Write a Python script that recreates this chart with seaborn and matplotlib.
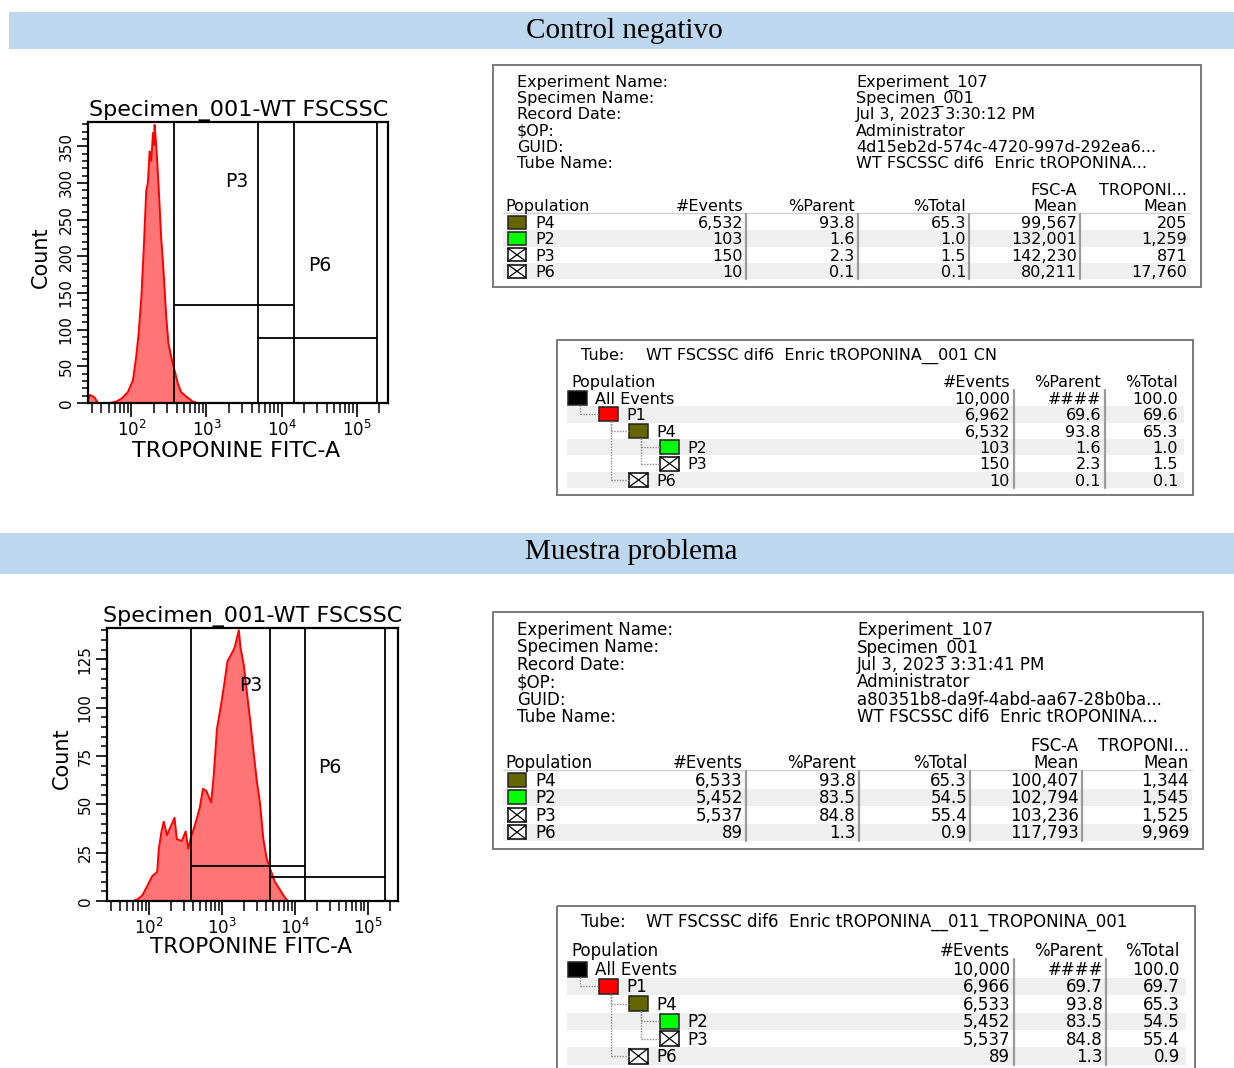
import matplotlib
matplotlib.use("Agg")
import matplotlib.pyplot as plt
import matplotlib.transforms as mtransforms
import numpy as np
import pandas as pd
import seaborn as sns
from matplotlib.patches import Rectangle
from matplotlib.ticker import LogLocator, MultipleLocator, NullFormatter

# ------------------------------------------------------------------ data
section_titles = ["Control negativo", "Muestra problema"]
hist_title = "Specimen_001-WT FSCSSC"
x_label = "TROPONINE FITC-A"
y_label = "Count"

# histogram outlines (FITC value, count)
ctrl_fitc = [26, 28, 32, 36, 52, 63, 74, 90, 105, 116, 125, 136, 146, 158, 166, 175,
             184, 194, 200, 204, 211, 219, 232, 249, 260, 271, 291, 312, 339, 375,
             415, 459, 535, 656, 764]
ctrl_count = [0, 11, 8, 0, 0, 2, 6, 15, 31, 63, 95, 145, 209, 290, 300, 343,
              330, 368, 352, 379, 360, 336, 290, 227, 200, 172, 118, 81, 63, 45,
              27, 15, 9, 2, 0]
ctrl_ymax = 383

prob_fitc = [60, 70, 81, 95, 111, 129, 136, 148, 159, 176, 195, 223, 240, 281,
             317, 345, 382, 424, 494, 548, 608, 710, 771, 853, 966, 1072, 1189,
             1318, 1489, 1702, 1795, 1991, 2208, 2443, 2710, 3006, 3334, 3690,
             4102, 4539, 5297, 6194, 7228, 8000]
prob_count = [0, 1, 3, 8, 13, 15, 27, 36, 41, 34, 38, 43, 32, 31,
              36, 27, 34, 39, 48, 58, 57, 51, 65, 89, 101, 112, 124,
              127, 131, 140, 131, 122, 107, 93, 77, 62, 50, 32,
              22, 17, 10, 6, 2, 0]
prob_ymax = 141

fitc_range = [26.2, 262143]

gate_names = ["P3", "P6"]
ctrl_gate_lo = [372, 4790]
ctrl_gate_hi = [14450, 186000]
ctrl_gate_y = [134, 89]
prob_gate_lo = [374, 4540]
prob_gate_hi = [13800, 171000]
prob_gate_y = [18.3, 12.3]

meta_labels = ["Experiment Name:", "Specimen Name:", "Record Date:", "$OP:", "GUID:", "Tube Name:"]
ctrl_meta = ["Experiment_107", "Specimen_001", "Jul 3, 2023 3:30:12 PM", "Administrator",
             "4d15eb2d-574c-4720-997d-292ea6...", "WT FSCSSC dif6  Enric tROPONINA..."]
prob_meta = ["Experiment_107", "Specimen_001", "Jul 3, 2023 3:31:41 PM", "Administrator",
             "a80351b8-da9f-4abd-aa67-28b0ba...", "WT FSCSSC dif6  Enric tROPONINA..."]

stat_headers = ["Population", "#Events", "%Parent", "%Total", "Mean", "Mean"]
stat_headers2 = ["FSC-A", "TROPONI..."]
stat_pops = ["P4", "P2", "P3", "P6"]
ctrl_events = [6532, 103, 150, 10]
ctrl_parent = [93.8, 1.6, 2.3, 0.1]
ctrl_total = [65.3, 1.0, 1.5, 0.1]
ctrl_fsc_mean = [99567, 132001, 142230, 80211]
ctrl_trop_mean = [205, 1259, 871, 17760]
prob_events = [6533, 5452, 5537, 89]
prob_parent = [93.8, 83.5, 84.8, 1.3]
prob_total = [65.3, 54.5, 55.4, 0.9]
prob_fsc_mean = [100407, 102794, 103236, 117793]
prob_trop_mean = [1344, 1545, 1525, 9969]

tree_headers = ["Population", "#Events", "%Parent", "%Total"]
tree_pops = ["All Events", "P1", "P4", "P2", "P3", "P6"]
tree_level = [0, 1, 2, 3, 3, 2]
tree_parent_idx = [None, 0, 1, 2, 2, 1]
ctrl_tube = "WT FSCSSC dif6  Enric tROPONINA__001 CN"
ctrl_tree_events = [10000, 6962, 6532, 103, 150, 10]
ctrl_tree_parent = ["####", 69.6, 93.8, 1.6, 2.3, 0.1]
ctrl_tree_total = [100.0, 69.6, 65.3, 1.0, 1.5, 0.1]
prob_tube = "WT FSCSSC dif6  Enric tROPONINA__011_TROPONINA_001"
prob_tree_events = [10000, 6966, 6533, 5452, 5537, 89]
prob_tree_parent = ["####", 69.7, 93.8, 83.5, 84.8, 1.3]
prob_tree_total = [100.0, 69.7, 65.3, 54.5, 55.4, 0.9]

pop_colors = {"All Events": "#000000", "P1": "#FF0000", "P4": "#666600",
              "P2": "#00FF00", "P3": None, "P6": None}

# ------------------------------------------------------------------ style
sns.set_theme(style="ticks")
plt.rcParams["font.family"] = ["DejaVu Sans"]
plt.rcParams["mathtext.fontset"] = "dejavusans"
for key in ["text.color", "axes.labelcolor", "xtick.color", "ytick.color", "axes.edgecolor"]:
    plt.rcParams[key] = "black"

W, H = 1234, 1068
fig = plt.figure(figsize=(W / 100, H / 100), dpi=100)
fig.patch.set_facecolor("white")
bg = fig.add_axes([0, 0, 1, 1])
bg.set_xlim(0, W)
bg.set_ylim(H, 0)
bg.axis("off")

def fmt(v, kind):
    if isinstance(v, str):
        return v
    if kind == "int":
        return f"{v:,}"
    return f"{v:.1f}"

def txt(x, y, s, fs, ha="left", **kw):
    # y is the visual centre of the capitals -> baseline placement
    bg.text(x, y + 0.36 * fs * 100 / 72, s, fontsize=fs, ha=ha, va="baseline",
            color="black", parse_math=False, **kw)

def pop_square(x, yc, w, h, color):
    if color is None:
        bg.add_patch(Rectangle((x, yc - h / 2), w, h, fc="white", ec="black", lw=1.1))
        bg.plot([x, x + w], [yc - h / 2, yc + h / 2], color="black", lw=0.9)
        bg.plot([x, x + w], [yc + h / 2, yc - h / 2], color="black", lw=0.9)
    else:
        bg.add_patch(Rectangle((x, yc - h / 2), w, h, fc=color, ec="#222222", lw=1.1))

# ------------------------------------------------------------------ section bars
bg.add_patch(Rectangle((9, 12), W - 9, 37, fc="#BDD7EE", ec="none"))
bg.text(624, 31, section_titles[0], fontsize=21, family="Liberation Serif",
        ha="center", va="center", color="black")
bg.add_patch(Rectangle((0, 533), W, 41, fc="#BDD7EE", ec="none"))
bg.text(631, 552, section_titles[1], fontsize=21, family="Liberation Serif",
        ha="center", va="center", color="black")

# ------------------------------------------------------------------ statistics tables
def info_table(L, meta_vals, events, parent, total, fsc, trop):
    x0, y0, x1, y1 = L["box"]
    fs = L["fs"]
    bg.add_patch(Rectangle((x0, y0), x1 - x0, y1 - y0, fill=False, ec="#707070", lw=1.3))
    for i, (lab, val) in enumerate(zip(meta_labels, meta_vals)):
        y = L["meta_y0"] + i * L["meta_dy"]
        txt(L["lab_x"], y, lab, fs)
        txt(L["val_x"], y, val, fs)
    cols = L["cols"]
    txt(cols[3], L["hdr2_y"], stat_headers2[0], fs, ha="right")
    txt(cols[4], L["hdr2_y"], stat_headers2[1], fs, ha="right")
    txt(L["pop_x"], L["hdr_y"], stat_headers[0], fs)
    for c, h in zip(cols, stat_headers[1:]):
        txt(c, L["hdr_y"], h, fs, ha="right")
    dy = L["row_dy"]
    bg.plot([L["shade"][0], L["shade"][1]], [L["line_y"], L["line_y"]], color="#D0D0D0", lw=1)
    for i, pop in enumerate(stat_pops):
        yc = L["row_y0"] + i * dy
        if i % 2 == 1:
            bg.add_patch(Rectangle((L["shade"][0], yc - dy / 2), L["shade"][1] - L["shade"][0], dy,
                                   fc="#EFEFEF", ec="none", zorder=0.5))
        pop_square(L["sq_x"], yc, L["sq"][0], L["sq"][1], pop_colors[pop])
        txt(L["lbl_x"], yc, pop, fs)
        vals = [fmt(events[i], "int"), fmt(parent[i], "f"), fmt(total[i], "f"),
                fmt(fsc[i], "int"), fmt(trop[i], "int")]
        for c, v in zip(cols, vals):
            txt(c, yc, v, fs, ha="right")
    ytop = L["line_y"] + 1
    ybot = L["row_y0"] + (len(stat_pops) - 0.5) * dy
    for s in L["seps"]:
        bg.plot([s, s], [ytop, ybot], color="#9A9A9A", lw=1.6)

info_top = dict(box=(493, 65, 1201, 287), lab_x=517, val_x=856, meta_y0=81, meta_dy=16.3,
                hdr2_y=189, hdr_y=205, line_y=213, row_y0=222, row_dy=16.4, pop_x=505,
                sq_x=508, lbl_x=535, sq=(18, 13), cols=[743, 855, 966, 1077, 1187],
                seps=[746, 858, 969, 1080], shade=(503, 1190), fs=11.5)
info_bot = dict(box=(493, 612, 1203, 849), lab_x=517, val_x=857, meta_y0=629, meta_dy=17.4,
                hdr2_y=745, hdr_y=762, line_y=770, row_y0=780, row_dy=17.4, pop_x=505,
                sq_x=508, lbl_x=535, sq=(18, 14), cols=[743, 856, 967, 1079, 1189],
                seps=[746, 859, 970, 1082], shade=(503, 1192), fs=12)

info_table(info_top, ctrl_meta, ctrl_events, ctrl_parent, ctrl_total, ctrl_fsc_mean, ctrl_trop_mean)
info_table(info_bot, prob_meta, prob_events, prob_parent, prob_total, prob_fsc_mean, prob_trop_mean)

# ------------------------------------------------------------------ hierarchy tables
def tree_table(L, tube, events, parent, total):
    x0, y0, x1, y1 = L["box"]
    fs = L["fs"]
    bg.add_patch(Rectangle((x0, y0), x1 - x0, y1 - y0, fill=False, ec="#707070", lw=1.3))
    txt(581, L["tube_y"], "Tube:", fs)
    txt(646, L["tube_y"], tube, fs)
    cols = L["cols"]
    txt(L["pop_x"], L["hdr_y"], tree_headers[0], fs)
    for c, h in zip(cols, tree_headers[1:]):
        txt(c, L["hdr_y"], h, fs, ha="right")
    dy = L["row_dy"]
    sw, sh = L["sq"]
    lx = L["level_x"]
    ys = [L["row_y0"] + i * dy for i in range(len(tree_pops))]
    for i, pop in enumerate(tree_pops):
        yc = ys[i]
        if i % 2 == 1:
            bg.add_patch(Rectangle((L["shade"][0], yc - dy / 2), L["shade"][1] - L["shade"][0], dy,
                                   fc="#EFEFEF", ec="none", zorder=0.5))
    for i, p in enumerate(tree_parent_idx):
        if p is None:
            continue
        px = lx[tree_level[p]] + sw / 2 + 2
        bg.plot([px, px], [ys[p] + sh / 2, ys[i]], color="#8C8C8C", lw=1, ls=(0, (1, 1)))
        bg.plot([px, lx[tree_level[i]]], [ys[i], ys[i]], color="#8C8C8C", lw=1, ls=(0, (1, 1)))
    for i, pop in enumerate(tree_pops):
        yc = ys[i]
        bx = lx[tree_level[i]]
        pop_square(bx, yc, sw, sh, pop_colors[pop])
        txt(bx + sw + 8, yc, pop, fs)
        vals = [fmt(events[i], "int"), fmt(parent[i], "f"), fmt(total[i], "f")]
        for c, v in zip(cols, vals):
            txt(c, yc, v, fs, ha="right")
    ytop = L["hdr_y"] + 9
    ybot = ys[-1] + dy / 2
    for s in L["seps"]:
        bg.plot([s, s], [ytop, ybot], color="#9A9A9A", lw=1.6)

tree_top = dict(box=(557, 340, 1193, 495), tube_y=354, hdr_y=381, row_y0=398, row_dy=16.4,
                pop_x=571, level_x=[568, 599, 629, 660], sq=(19, 14), cols=[1010, 1101, 1178],
                seps=[1014, 1105], shade=(567, 1184), fs=11.5)
tree_bot = dict(box=(557, 906, 1195, 1080), tube_y=921, hdr_y=950, row_y0=969, row_dy=17.4,
                pop_x=571, level_x=[568, 599, 629, 660], sq=(19, 15), cols=[1010, 1103, 1180],
                seps=[1014, 1106], shade=(567, 1186), fs=12)

tree_table(tree_top, ctrl_tube, ctrl_tree_events, ctrl_tree_parent, ctrl_tree_total)
tree_table(tree_bot, prob_tube, prob_tree_events, prob_tree_parent, prob_tree_total)

# ------------------------------------------------------------------ histograms
def hist_panel(rect_px, fitc, count, ymax, ymaj, ymin, glo, ghi, gy):
    l, t, r, b = rect_px
    ax = fig.add_axes([l / W, 1 - b / H, (r - l) / W, (b - t) / H])
    df = pd.DataFrame({"fitc": fitc, "count": count})
    ax.set_xscale("log")
    ax.fill_between(df["fitc"], 0, df["count"], color="#FF7474", lw=0, zorder=1)
    sns.lineplot(data=df, x="fitc", y="count", ax=ax, color="#FF0000", lw=1.4,
                 estimator=None, sort=False, zorder=2)
    ax.set_xlim(*fitc_range)
    ax.set_ylim(0, ymax)
    blend = mtransforms.blended_transform_factory(ax.transData, ax.transAxes)
    for lo, hi, y, name, fy in zip(glo, ghi, gy, gate_names, [0.79, 0.49]):
        ax.axvline(lo, color="black", lw=1.3, zorder=3)
        ax.axvline(hi, color="black", lw=1.3, zorder=3)
        ax.hlines(y, lo, hi, color="black", lw=1.3, zorder=3)
        ax.text(np.sqrt(lo * hi) * 1.08, fy, name, transform=blend, fontsize=13.5,
                ha="center", va="center", zorder=4, color="black")
    ax.set_xlabel("")
    ax.set_ylabel("")
    ax.xaxis.set_major_locator(LogLocator(base=10, numticks=12))
    ax.xaxis.set_minor_locator(LogLocator(base=10, subs=np.arange(2, 10), numticks=12))
    ax.xaxis.set_minor_formatter(NullFormatter())
    ax.yaxis.set_major_locator(MultipleLocator(ymaj))
    ax.yaxis.set_minor_locator(MultipleLocator(ymin))
    ax.tick_params(axis="x", which="major", length=10, width=1.2, color="black",
                   labelsize=12, pad=2, direction="out", labelcolor="black")
    ax.tick_params(axis="x", which="minor", length=7, width=1.1, color="black", direction="out")
    ax.tick_params(axis="y", which="major", length=8, width=1.2, color="black",
                   labelsize=11, pad=2, direction="out", labelrotation=90, labelcolor="black")
    ax.tick_params(axis="y", which="minor", length=4.5, width=1.1, color="black", direction="out")
    for lab in ax.get_yticklabels():
        lab.set_va("center")
    for sp in ax.spines.values():
        sp.set_color("black")
        sp.set_linewidth(1.6)
    ax.set_facecolor("white")
    return ax

hist_panel((87.7, 122, 388, 403), ctrl_fitc, ctrl_count, ctrl_ymax, 50, 10,
           ctrl_gate_lo, ctrl_gate_hi, ctrl_gate_y)
hist_panel((106.7, 628.3, 398.3, 901), prob_fitc, prob_count, prob_ymax, 25, 5,
           prob_gate_lo, prob_gate_hi, prob_gate_y)

# titles and axis labels of the histograms
bg.text(239, 116, hist_title, fontsize=16, ha="center", va="baseline", color="black")
bg.text(253, 622, hist_title, fontsize=16, ha="center", va="baseline", color="black")
bg.text(41, 257, y_label, fontsize=15, rotation=90, ha="center", va="center", color="black")
bg.text(62, 758, y_label, fontsize=15, rotation=90, ha="center", va="center", color="black")
bg.text(236, 451, x_label, fontsize=16, ha="center", va="center", color="black")
bg.text(251, 947, x_label, fontsize=15.5, ha="center", va="center", color="black")

fig.savefig("out.png", dpi=100, facecolor="white")
